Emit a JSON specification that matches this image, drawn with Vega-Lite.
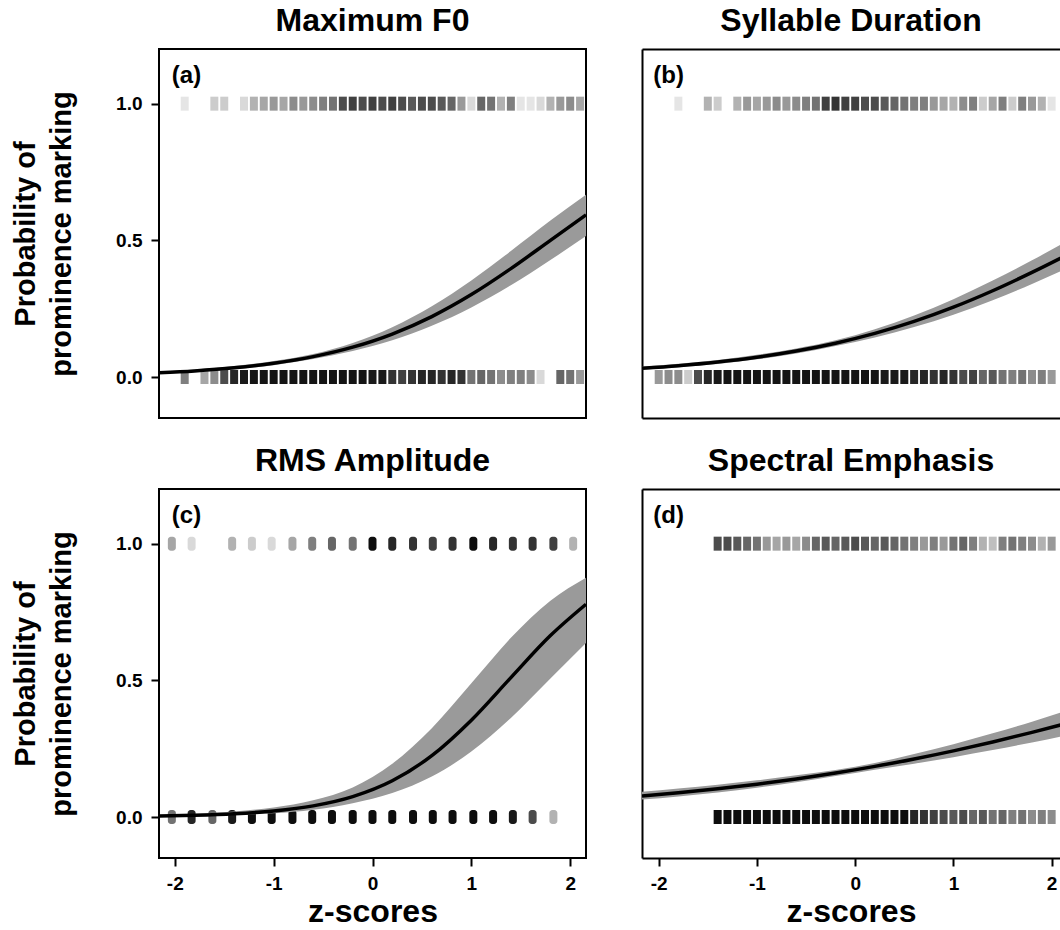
{
  "$schema": "https://vega.github.io/schema/vega-lite/v6.json",
  "background": "white",
  "padding": {"left": 10, "top": 4, "right": 0, "bottom": 0},
  "config": {
    "font": "Liberation Sans",
    "view": {"stroke": "black", "strokeWidth": 2},
    "title": {"fontSize": 32, "fontWeight": "bold", "font": "Liberation Sans", "offset": 11, "baseline": "alphabetic", "anchor": "middle", "frame": "group", "color": "black"},
    "axis": {"grid": false, "labelFont": "Liberation Sans", "labelFontWeight": "bold", "labelFontSize": 19, "labelColor": "black", "tickColor": "black", "tickWidth": 2, "tickSize": 8, "domainColor": "black", "domainWidth": 2, "titleFont": "Liberation Sans", "titleFontWeight": "bold", "titleColor": "black"}
  },
  "datasets": {
    "lab": [
      {"p":"a","x":-2.03,"y":1.1,"t":"(a)"},
      {"p":"b","x":-2.055,"y":1.1,"t":"(b)"},
      {"p":"c","x":-2.03,"y":1.1,"t":"(c)"},
      {"p":"d","x":-2.055,"y":1.1,"t":"(d)"}
    ],
    "pts": [
      {"p":"a","x":-1.9,"y":1,"d":0.1},{"p":"a","x":-1.6,"y":1,"d":0.2},{"p":"a","x":-1.5,"y":1,"d":0.2},{"p":"a","x":-1.3,"y":1,"d":0.15},{"p":"a","x":-1.2,"y":1,"d":0.3},{"p":"a","x":-1.1,"y":1,"d":0.35},{"p":"a","x":-1.0,"y":1,"d":0.4},{"p":"a","x":-0.9,"y":1,"d":0.35},{"p":"a","x":-0.8,"y":1,"d":0.45},{"p":"a","x":-0.7,"y":1,"d":0.4},{"p":"a","x":-0.6,"y":1,"d":0.45},{"p":"a","x":-0.5,"y":1,"d":0.5},{"p":"a","x":-0.4,"y":1,"d":0.55},{"p":"a","x":-0.3,"y":1,"d":0.7},{"p":"a","x":-0.2,"y":1,"d":0.75},{"p":"a","x":-0.1,"y":1,"d":0.7},{"p":"a","x":0.0,"y":1,"d":0.75},{"p":"a","x":0.1,"y":1,"d":0.7},{"p":"a","x":0.2,"y":1,"d":0.75},{"p":"a","x":0.3,"y":1,"d":0.7},{"p":"a","x":0.4,"y":1,"d":0.65},{"p":"a","x":0.5,"y":1,"d":0.7},{"p":"a","x":0.6,"y":1,"d":0.7},{"p":"a","x":0.7,"y":1,"d":0.65},{"p":"a","x":0.8,"y":1,"d":0.6},{"p":"a","x":0.9,"y":1,"d":0.4},{"p":"a","x":1.0,"y":1,"d":0.15},{"p":"a","x":1.1,"y":1,"d":0.6},{"p":"a","x":1.2,"y":1,"d":0.55},{"p":"a","x":1.3,"y":1,"d":0.3},{"p":"a","x":1.4,"y":1,"d":0.5},{"p":"a","x":1.5,"y":1,"d":0.1},{"p":"a","x":1.6,"y":1,"d":0.1},{"p":"a","x":1.7,"y":1,"d":0.15},{"p":"a","x":1.8,"y":1,"d":0.3},{"p":"a","x":1.9,"y":1,"d":0.4},{"p":"a","x":2.0,"y":1,"d":0.45},{"p":"a","x":2.1,"y":1,"d":0.35},
      {"p":"a","x":-1.9,"y":0,"d":0.5},{"p":"a","x":-1.7,"y":0,"d":0.35},{"p":"a","x":-1.6,"y":0,"d":0.45},{"p":"a","x":-1.5,"y":0,"d":0.7},{"p":"a","x":-1.4,"y":0,"d":0.85},{"p":"a","x":-1.3,"y":0,"d":0.9},{"p":"a","x":-1.2,"y":0,"d":0.92},{"p":"a","x":-1.1,"y":0,"d":0.92},{"p":"a","x":-1.0,"y":0,"d":0.92},{"p":"a","x":-0.9,"y":0,"d":0.92},{"p":"a","x":-0.8,"y":0,"d":0.92},{"p":"a","x":-0.7,"y":0,"d":0.92},{"p":"a","x":-0.6,"y":0,"d":0.92},{"p":"a","x":-0.5,"y":0,"d":0.92},{"p":"a","x":-0.4,"y":0,"d":0.92},{"p":"a","x":-0.3,"y":0,"d":0.92},{"p":"a","x":-0.2,"y":0,"d":0.92},{"p":"a","x":-0.1,"y":0,"d":0.92},{"p":"a","x":0.0,"y":0,"d":0.9},{"p":"a","x":0.1,"y":0,"d":0.9},{"p":"a","x":0.2,"y":0,"d":0.8},{"p":"a","x":0.3,"y":0,"d":0.75},{"p":"a","x":0.4,"y":0,"d":0.8},{"p":"a","x":0.5,"y":0,"d":0.85},{"p":"a","x":0.6,"y":0,"d":0.85},{"p":"a","x":0.7,"y":0,"d":0.8},{"p":"a","x":0.8,"y":0,"d":0.85},{"p":"a","x":0.9,"y":0,"d":0.8},{"p":"a","x":1.0,"y":0,"d":0.55},{"p":"a","x":1.1,"y":0,"d":0.6},{"p":"a","x":1.2,"y":0,"d":0.55},{"p":"a","x":1.3,"y":0,"d":0.45},{"p":"a","x":1.4,"y":0,"d":0.5},{"p":"a","x":1.5,"y":0,"d":0.5},{"p":"a","x":1.6,"y":0,"d":0.45},{"p":"a","x":1.7,"y":0,"d":0.15},{"p":"a","x":1.9,"y":0,"d":0.6},{"p":"a","x":2.0,"y":0,"d":0.55},{"p":"a","x":2.1,"y":0,"d":0.4},
      {"p":"b","x":-1.8,"y":1,"d":0.1},{"p":"b","x":-1.5,"y":1,"d":0.3},{"p":"b","x":-1.4,"y":1,"d":0.2},{"p":"b","x":-1.2,"y":1,"d":0.3},{"p":"b","x":-1.1,"y":1,"d":0.4},{"p":"b","x":-1.0,"y":1,"d":0.35},{"p":"b","x":-0.9,"y":1,"d":0.4},{"p":"b","x":-0.8,"y":1,"d":0.45},{"p":"b","x":-0.7,"y":1,"d":0.4},{"p":"b","x":-0.6,"y":1,"d":0.45},{"p":"b","x":-0.5,"y":1,"d":0.5},{"p":"b","x":-0.4,"y":1,"d":0.55},{"p":"b","x":-0.3,"y":1,"d":0.75},{"p":"b","x":-0.2,"y":1,"d":0.8},{"p":"b","x":-0.1,"y":1,"d":0.75},{"p":"b","x":0.0,"y":1,"d":0.75},{"p":"b","x":0.1,"y":1,"d":0.7},{"p":"b","x":0.2,"y":1,"d":0.7},{"p":"b","x":0.3,"y":1,"d":0.65},{"p":"b","x":0.4,"y":1,"d":0.6},{"p":"b","x":0.5,"y":1,"d":0.55},{"p":"b","x":0.6,"y":1,"d":0.5},{"p":"b","x":0.7,"y":1,"d":0.5},{"p":"b","x":0.8,"y":1,"d":0.4},{"p":"b","x":0.9,"y":1,"d":0.35},{"p":"b","x":1.0,"y":1,"d":0.3},{"p":"b","x":1.1,"y":1,"d":0.45},{"p":"b","x":1.2,"y":1,"d":0.5},{"p":"b","x":1.3,"y":1,"d":0.2},{"p":"b","x":1.4,"y":1,"d":0.35},{"p":"b","x":1.5,"y":1,"d":0.5},{"p":"b","x":1.6,"y":1,"d":0.2},{"p":"b","x":1.7,"y":1,"d":0.5},{"p":"b","x":1.8,"y":1,"d":0.4},{"p":"b","x":1.9,"y":1,"d":0.3},{"p":"b","x":2.0,"y":1,"d":0.1},
      {"p":"b","x":-2.0,"y":0,"d":0.4},{"p":"b","x":-1.9,"y":0,"d":0.45},{"p":"b","x":-1.8,"y":0,"d":0.45},{"p":"b","x":-1.7,"y":0,"d":0.2},{"p":"b","x":-1.6,"y":0,"d":0.7},{"p":"b","x":-1.5,"y":0,"d":0.85},{"p":"b","x":-1.4,"y":0,"d":0.9},{"p":"b","x":-1.3,"y":0,"d":0.92},{"p":"b","x":-1.2,"y":0,"d":0.92},{"p":"b","x":-1.1,"y":0,"d":0.92},{"p":"b","x":-1.0,"y":0,"d":0.92},{"p":"b","x":-0.9,"y":0,"d":0.92},{"p":"b","x":-0.8,"y":0,"d":0.92},{"p":"b","x":-0.7,"y":0,"d":0.92},{"p":"b","x":-0.6,"y":0,"d":0.92},{"p":"b","x":-0.5,"y":0,"d":0.92},{"p":"b","x":-0.4,"y":0,"d":0.92},{"p":"b","x":-0.3,"y":0,"d":0.92},{"p":"b","x":-0.2,"y":0,"d":0.92},{"p":"b","x":-0.1,"y":0,"d":0.92},{"p":"b","x":0.0,"y":0,"d":0.92},{"p":"b","x":0.1,"y":0,"d":0.92},{"p":"b","x":0.2,"y":0,"d":0.92},{"p":"b","x":0.3,"y":0,"d":0.9},{"p":"b","x":0.4,"y":0,"d":0.9},{"p":"b","x":0.5,"y":0,"d":0.9},{"p":"b","x":0.6,"y":0,"d":0.85},{"p":"b","x":0.7,"y":0,"d":0.85},{"p":"b","x":0.8,"y":0,"d":0.8},{"p":"b","x":0.9,"y":0,"d":0.85},{"p":"b","x":1.0,"y":0,"d":0.8},{"p":"b","x":1.1,"y":0,"d":0.7},{"p":"b","x":1.2,"y":0,"d":0.75},{"p":"b","x":1.3,"y":0,"d":0.6},{"p":"b","x":1.4,"y":0,"d":0.65},{"p":"b","x":1.5,"y":0,"d":0.55},{"p":"b","x":1.6,"y":0,"d":0.5},{"p":"b","x":1.7,"y":0,"d":0.55},{"p":"b","x":1.8,"y":0,"d":0.45},{"p":"b","x":1.9,"y":0,"d":0.5},{"p":"b","x":2.0,"y":0,"d":0.4},
      {"p":"c","x":-2.03,"y":1,"d":0.35},{"p":"c","x":-1.83,"y":1,"d":0.15},{"p":"c","x":-1.42,"y":1,"d":0.3},{"p":"c","x":-1.22,"y":1,"d":0.2},{"p":"c","x":-1.02,"y":1,"d":0.15},{"p":"c","x":-0.81,"y":1,"d":0.35},{"p":"c","x":-0.61,"y":1,"d":0.5},{"p":"c","x":-0.41,"y":1,"d":0.6},{"p":"c","x":-0.2,"y":1,"d":0.55},{"p":"c","x":0.0,"y":1,"d":0.95},{"p":"c","x":0.2,"y":1,"d":0.85},{"p":"c","x":0.41,"y":1,"d":0.8},{"p":"c","x":0.61,"y":1,"d":0.75},{"p":"c","x":0.81,"y":1,"d":0.8},{"p":"c","x":1.02,"y":1,"d":0.95},{"p":"c","x":1.22,"y":1,"d":0.85},{"p":"c","x":1.42,"y":1,"d":0.8},{"p":"c","x":1.62,"y":1,"d":0.8},{"p":"c","x":1.83,"y":1,"d":0.75},{"p":"c","x":2.03,"y":1,"d":0.3},
      {"p":"c","x":-2.03,"y":0,"d":0.55},{"p":"c","x":-1.83,"y":0,"d":0.85},{"p":"c","x":-1.62,"y":0,"d":0.6},{"p":"c","x":-1.42,"y":0,"d":0.9},{"p":"c","x":-1.22,"y":0,"d":0.95},{"p":"c","x":-1.02,"y":0,"d":0.95},{"p":"c","x":-0.81,"y":0,"d":0.95},{"p":"c","x":-0.61,"y":0,"d":0.95},{"p":"c","x":-0.41,"y":0,"d":0.95},{"p":"c","x":-0.2,"y":0,"d":0.95},{"p":"c","x":0.0,"y":0,"d":0.95},{"p":"c","x":0.2,"y":0,"d":0.95},{"p":"c","x":0.41,"y":0,"d":0.95},{"p":"c","x":0.61,"y":0,"d":0.95},{"p":"c","x":0.81,"y":0,"d":0.95},{"p":"c","x":1.02,"y":0,"d":0.95},{"p":"c","x":1.22,"y":0,"d":0.95},{"p":"c","x":1.42,"y":0,"d":0.9},{"p":"c","x":1.62,"y":0,"d":0.7},{"p":"c","x":1.83,"y":0,"d":0.3},
      {"p":"d","x":-1.4,"y":1,"d":0.7},{"p":"d","x":-1.3,"y":1,"d":0.7},{"p":"d","x":-1.2,"y":1,"d":0.65},{"p":"d","x":-1.1,"y":1,"d":0.6},{"p":"d","x":-1.0,"y":1,"d":0.55},{"p":"d","x":-0.9,"y":1,"d":0.4},{"p":"d","x":-0.8,"y":1,"d":0.35},{"p":"d","x":-0.7,"y":1,"d":0.4},{"p":"d","x":-0.6,"y":1,"d":0.35},{"p":"d","x":-0.5,"y":1,"d":0.45},{"p":"d","x":-0.4,"y":1,"d":0.6},{"p":"d","x":-0.3,"y":1,"d":0.65},{"p":"d","x":-0.2,"y":1,"d":0.6},{"p":"d","x":-0.1,"y":1,"d":0.65},{"p":"d","x":0.0,"y":1,"d":0.7},{"p":"d","x":0.1,"y":1,"d":0.65},{"p":"d","x":0.2,"y":1,"d":0.6},{"p":"d","x":0.3,"y":1,"d":0.65},{"p":"d","x":0.4,"y":1,"d":0.6},{"p":"d","x":0.5,"y":1,"d":0.55},{"p":"d","x":0.6,"y":1,"d":0.5},{"p":"d","x":0.7,"y":1,"d":0.4},{"p":"d","x":0.8,"y":1,"d":0.5},{"p":"d","x":0.9,"y":1,"d":0.4},{"p":"d","x":1.0,"y":1,"d":0.55},{"p":"d","x":1.1,"y":1,"d":0.6},{"p":"d","x":1.2,"y":1,"d":0.5},{"p":"d","x":1.3,"y":1,"d":0.3},{"p":"d","x":1.4,"y":1,"d":0.25},{"p":"d","x":1.5,"y":1,"d":0.5},{"p":"d","x":1.6,"y":1,"d":0.55},{"p":"d","x":1.7,"y":1,"d":0.5},{"p":"d","x":1.8,"y":1,"d":0.45},{"p":"d","x":1.9,"y":1,"d":0.3},{"p":"d","x":2.0,"y":1,"d":0.4},
      {"p":"d","x":-1.4,"y":0,"d":0.95},{"p":"d","x":-1.3,"y":0,"d":0.95},{"p":"d","x":-1.2,"y":0,"d":0.95},{"p":"d","x":-1.1,"y":0,"d":0.95},{"p":"d","x":-1.0,"y":0,"d":0.95},{"p":"d","x":-0.9,"y":0,"d":0.95},{"p":"d","x":-0.8,"y":0,"d":0.95},{"p":"d","x":-0.7,"y":0,"d":0.95},{"p":"d","x":-0.6,"y":0,"d":0.95},{"p":"d","x":-0.5,"y":0,"d":0.95},{"p":"d","x":-0.4,"y":0,"d":0.95},{"p":"d","x":-0.3,"y":0,"d":0.95},{"p":"d","x":-0.2,"y":0,"d":0.95},{"p":"d","x":-0.1,"y":0,"d":0.95},{"p":"d","x":0.0,"y":0,"d":0.95},{"p":"d","x":0.1,"y":0,"d":0.95},{"p":"d","x":0.2,"y":0,"d":0.95},{"p":"d","x":0.3,"y":0,"d":0.95},{"p":"d","x":0.4,"y":0,"d":0.95},{"p":"d","x":0.5,"y":0,"d":0.95},{"p":"d","x":0.6,"y":0,"d":0.85},{"p":"d","x":0.7,"y":0,"d":0.8},{"p":"d","x":0.8,"y":0,"d":0.75},{"p":"d","x":0.9,"y":0,"d":0.7},{"p":"d","x":1.0,"y":0,"d":0.65},{"p":"d","x":1.1,"y":0,"d":0.7},{"p":"d","x":1.2,"y":0,"d":0.6},{"p":"d","x":1.3,"y":0,"d":0.65},{"p":"d","x":1.4,"y":0,"d":0.55},{"p":"d","x":1.5,"y":0,"d":0.6},{"p":"d","x":1.6,"y":0,"d":0.5},{"p":"d","x":1.7,"y":0,"d":0.55},{"p":"d","x":1.8,"y":0,"d":0.45},{"p":"d","x":1.9,"y":0,"d":0.5},{"p":"d","x":2.0,"y":0,"d":0.45}
    ],
    "fit": [
      {"p":"a","x":-2.16,"f":0.0154,"lo":0.0121,"hi":0.0196},{"p":"a","x":-1.8,"f":0.0223,"lo":0.018,"hi":0.0277},{"p":"a","x":-1.4,"f":0.0335,"lo":0.0278,"hi":0.0404},{"p":"a","x":-1.0,"f":0.0502,"lo":0.0429,"hi":0.0587},{"p":"a","x":-0.6,"f":0.0745,"lo":0.0656,"hi":0.0845},{"p":"a","x":-0.2,"f":0.1091,"lo":0.0953,"hi":0.1247},{"p":"a","x":0.2,"f":0.1571,"lo":0.1348,"hi":0.1823},{"p":"a","x":0.6,"f":0.221,"lo":0.1874,"hi":0.2587},{"p":"a","x":1.0,"f":0.3015,"lo":0.2545,"hi":0.3532},{"p":"a","x":1.4,"f":0.3965,"lo":0.3356,"hi":0.4608},{"p":"a","x":1.8,"f":0.5,"lo":0.4278,"hi":0.5722},{"p":"a","x":2.16,"f":0.5934,"lo":0.5155,"hi":0.6669},
      {"p":"b","x":-2.17,"f":0.0318,"lo":0.0269,"hi":0.0376},{"p":"b","x":-1.8,"f":0.0414,"lo":0.0356,"hi":0.0481},{"p":"b","x":-1.4,"f":0.0549,"lo":0.048,"hi":0.0625},{"p":"b","x":-1.0,"f":0.0724,"lo":0.0646,"hi":0.081},{"p":"b","x":-0.6,"f":0.095,"lo":0.0864,"hi":0.1043},{"p":"b","x":-0.2,"f":0.1237,"lo":0.1137,"hi":0.1342},{"p":"b","x":0.2,"f":0.1595,"lo":0.1449,"hi":0.175},{"p":"b","x":0.6,"f":0.2032,"lo":0.1829,"hi":0.2251},{"p":"b","x":1.0,"f":0.2554,"lo":0.2281,"hi":0.2845},{"p":"b","x":1.4,"f":0.3156,"lo":0.2807,"hi":0.3526},{"p":"b","x":1.8,"f":0.3827,"lo":0.3401,"hi":0.427},{"p":"b","x":2.16,"f":0.4472,"lo":0.3982,"hi":0.4973},
      {"p":"c","x":-2.16,"f":0.0035,"lo":0.0019,"hi":0.0065},{"p":"c","x":-1.8,"f":0.0062,"lo":0.0035,"hi":0.011},{"p":"c","x":-1.4,"f":0.0117,"lo":0.0069,"hi":0.0197},{"p":"c","x":-1.0,"f":0.0219,"lo":0.0136,"hi":0.035},{"p":"c","x":-0.6,"f":0.0407,"lo":0.0267,"hi":0.0616},{"p":"c","x":-0.2,"f":0.0745,"lo":0.0506,"hi":0.1083},{"p":"c","x":0.2,"f":0.1324,"lo":0.0878,"hi":0.1947},{"p":"c","x":0.6,"f":0.2244,"lo":0.1483,"hi":0.3248},{"p":"c","x":1.0,"f":0.3543,"lo":0.2394,"hi":0.489},{"p":"c","x":1.4,"f":0.51,"lo":0.3626,"hi":0.6557},{"p":"c","x":1.8,"f":0.6637,"lo":0.507,"hi":0.7912},{"p":"c","x":2.16,"f":0.7783,"lo":0.6367,"hi":0.8756},
      {"p":"d","x":-2.17,"f":0.0766,"lo":0.0636,"hi":0.092},{"p":"d","x":-1.8,"f":0.0885,"lo":0.0752,"hi":0.104},{"p":"d","x":-1.4,"f":0.1032,"lo":0.0898,"hi":0.1184},{"p":"d","x":-1.0,"f":0.12,"lo":0.107,"hi":0.1345},{"p":"d","x":-0.6,"f":0.1392,"lo":0.1269,"hi":0.1524},{"p":"d","x":-0.2,"f":0.1608,"lo":0.15,"hi":0.1722},{"p":"d","x":0.2,"f":0.1852,"lo":0.1731,"hi":0.1978},{"p":"d","x":0.6,"f":0.2122,"lo":0.195,"hi":0.2304},{"p":"d","x":1.0,"f":0.242,"lo":0.2189,"hi":0.2666},{"p":"d","x":1.4,"f":0.2745,"lo":0.2449,"hi":0.3062},{"p":"d","x":1.8,"f":0.3096,"lo":0.2729,"hi":0.3489},{"p":"d","x":2.16,"f":0.3432,"lo":0.2996,"hi":0.3896}
    ]
  },
  "vconcat": [
    {
      "hconcat": [
        {
          "width": 427, "height": 369,
          "title": "Maximum F0",
          "layer": [
            {"data": {"name": "pts"}, "transform": [{"filter": {"field": "p", "equal": "a"}}],
             "mark": {"type": "tick", "orient": "vertical", "thickness": 8, "size": 14, "color": "black"},
             "encoding": {
               "x": {"field": "x", "type": "quantitative", "scale": {"domain": [-2.16, 2.16], "nice": false, "zero": false}, "axis": null},
               "y": {"field": "y", "type": "quantitative", "scale": {"domain": [-0.15, 1.2], "nice": false, "zero": false},
                     "axis": {"values": [0, 0.5, 1], "format": ".1f", "ticks": true, "tickSize": 8, "tickWidth": 2, "tickColor": "black", "labelPadding": 9, "domain": false, "title": ["Probability of", "prominence marking"], "titleFontSize": 29, "titleLineHeight": 36, "titlePadding": 39}},
               "opacity": {"field": "d", "type": "quantitative", "scale": null}}},
            {"data": {"name": "fit"}, "transform": [{"filter": {"field": "p", "equal": "a"}}],
             "mark": {"type": "area", "color": "#9a9a9a", "interpolate": "monotone", "opacity": 1},
             "encoding": {"x": {"field": "x", "type": "quantitative", "axis": null}, "y": {"field": "lo", "type": "quantitative"}, "y2": {"field": "hi"}}},
            {"data": {"name": "fit"}, "transform": [{"filter": {"field": "p", "equal": "a"}}],
             "mark": {"type": "line", "color": "black", "strokeWidth": 3.5, "interpolate": "monotone"},
             "encoding": {"x": {"field": "x", "type": "quantitative", "axis": null}, "y": {"field": "f", "type": "quantitative"}}},
            {"data": {"name": "lab"}, "transform": [{"filter": {"field": "p", "equal": "a"}}],
             "mark": {"type": "text", "fontSize": 24, "fontWeight": "bold", "align": "left", "baseline": "middle", "color": "black"},
             "encoding": {"x": {"field": "x", "type": "quantitative", "axis": null}, "y": {"field": "y", "type": "quantitative"}, "text": {"field": "t"}}}
          ]
        },
        {
          "width": 418, "height": 369,
          "title": "Syllable Duration",
          "view": {"stroke": null},
          "resolve": {"axis": {"x": "independent"}},
          "layer": [
            {"data": {"name": "pts"}, "transform": [{"filter": {"field": "p", "equal": "b"}}],
             "mark": {"type": "tick", "orient": "vertical", "thickness": 8, "size": 14, "color": "black", "clip": true},
             "encoding": {
               "x": {"field": "x", "type": "quantitative", "scale": {"domain": [-2.17, 2.085], "nice": false, "zero": false}, "axis": {"orient": "top", "ticks": false, "labels": false, "title": null}},
               "y": {"field": "y", "type": "quantitative", "scale": {"domain": [-0.15, 1.2], "nice": false, "zero": false}, "axis": {"ticks": false, "labels": false, "title": null}},
               "opacity": {"field": "d", "type": "quantitative", "scale": null}}},
            {"data": {"name": "fit"}, "transform": [{"filter": {"field": "p", "equal": "b"}}],
             "mark": {"type": "area", "color": "#9a9a9a", "interpolate": "monotone", "opacity": 1, "clip": true},
             "encoding": {"x": {"field": "x", "type": "quantitative", "axis": {"orient": "bottom", "ticks": false, "labels": false, "title": null}}, "y": {"field": "lo", "type": "quantitative"}, "y2": {"field": "hi"}}},
            {"data": {"name": "fit"}, "transform": [{"filter": {"field": "p", "equal": "b"}}],
             "mark": {"type": "line", "color": "black", "strokeWidth": 3.5, "interpolate": "monotone", "clip": true},
             "encoding": {"x": {"field": "x", "type": "quantitative", "axis": null}, "y": {"field": "f", "type": "quantitative"}}},
            {"data": {"name": "lab"}, "transform": [{"filter": {"field": "p", "equal": "b"}}],
             "mark": {"type": "text", "fontSize": 24, "fontWeight": "bold", "align": "left", "baseline": "middle", "color": "black"},
             "encoding": {"x": {"field": "x", "type": "quantitative", "axis": null}, "y": {"field": "y", "type": "quantitative"}, "text": {"field": "t"}}}
          ]
        }
      ],
      "spacing": 48
    },
    {
      "hconcat": [
        {
          "width": 427, "height": 369,
          "title": "RMS Amplitude",
          "layer": [
            {"data": {"name": "pts"}, "transform": [{"filter": {"field": "p", "equal": "c"}}],
             "mark": {"type": "tick", "orient": "vertical", "thickness": 8, "size": 14, "cornerRadius": 3, "color": "black"},
             "encoding": {
               "x": {"field": "x", "type": "quantitative", "scale": {"domain": [-2.16, 2.16], "nice": false, "zero": false},
                     "axis": {"values": [-2, -1, 0, 1, 2], "labelExpr": "'' + datum.value", "ticks": true, "tickSize": 8, "tickWidth": 2, "tickColor": "black", "labelPadding": 8, "domain": false, "title": "z-scores", "titleFontSize": 32, "titlePadding": 3}},
               "y": {"field": "y", "type": "quantitative", "scale": {"domain": [-0.15, 1.2], "nice": false, "zero": false},
                     "axis": {"values": [0, 0.5, 1], "format": ".1f", "ticks": true, "tickSize": 8, "tickWidth": 2, "tickColor": "black", "labelPadding": 9, "domain": false, "title": ["Probability of", "prominence marking"], "titleFontSize": 29, "titleLineHeight": 36, "titlePadding": 39}},
               "opacity": {"field": "d", "type": "quantitative", "scale": null}}},
            {"data": {"name": "fit"}, "transform": [{"filter": {"field": "p", "equal": "c"}}],
             "mark": {"type": "area", "color": "#9a9a9a", "interpolate": "monotone", "opacity": 1},
             "encoding": {"x": {"field": "x", "type": "quantitative"}, "y": {"field": "lo", "type": "quantitative"}, "y2": {"field": "hi"}}},
            {"data": {"name": "fit"}, "transform": [{"filter": {"field": "p", "equal": "c"}}],
             "mark": {"type": "line", "color": "black", "strokeWidth": 3.5, "interpolate": "monotone"},
             "encoding": {"x": {"field": "x", "type": "quantitative"}, "y": {"field": "f", "type": "quantitative"}}},
            {"data": {"name": "lab"}, "transform": [{"filter": {"field": "p", "equal": "c"}}],
             "mark": {"type": "text", "fontSize": 24, "fontWeight": "bold", "align": "left", "baseline": "middle", "color": "black"},
             "encoding": {"x": {"field": "x", "type": "quantitative"}, "y": {"field": "y", "type": "quantitative"}, "text": {"field": "t"}}}
          ]
        },
        {
          "width": 418, "height": 369,
          "title": "Spectral Emphasis",
          "view": {"stroke": null},
          "resolve": {"axis": {"x": "independent"}},
          "layer": [
            {"data": {"name": "pts"}, "transform": [{"filter": {"field": "p", "equal": "d"}}],
             "mark": {"type": "tick", "orient": "vertical", "thickness": 8, "size": 14, "color": "black", "clip": true},
             "encoding": {
               "x": {"field": "x", "type": "quantitative", "scale": {"domain": [-2.17, 2.085], "nice": false, "zero": false}, "axis": {"orient": "top", "ticks": false, "labels": false, "title": null}},
               "y": {"field": "y", "type": "quantitative", "scale": {"domain": [-0.15, 1.2], "nice": false, "zero": false}, "axis": {"ticks": false, "labels": false, "title": null}},
               "opacity": {"field": "d", "type": "quantitative", "scale": null}}},
            {"data": {"name": "fit"}, "transform": [{"filter": {"field": "p", "equal": "d"}}],
             "mark": {"type": "area", "color": "#9a9a9a", "interpolate": "monotone", "opacity": 1, "clip": true},
             "encoding": {"x": {"field": "x", "type": "quantitative", "axis": {"orient": "bottom", "values": [-2, -1, 0, 1, 2], "labelExpr": "'' + datum.value", "ticks": true, "tickSize": 8, "tickWidth": 2, "tickColor": "black", "labelPadding": 8, "title": "z-scores", "titleFontSize": 32, "titlePadding": 3}}, "y": {"field": "lo", "type": "quantitative"}, "y2": {"field": "hi"}}},
            {"data": {"name": "fit"}, "transform": [{"filter": {"field": "p", "equal": "d"}}],
             "mark": {"type": "line", "color": "black", "strokeWidth": 3.5, "interpolate": "monotone", "clip": true},
             "encoding": {"x": {"field": "x", "type": "quantitative", "axis": null}, "y": {"field": "f", "type": "quantitative"}}},
            {"data": {"name": "lab"}, "transform": [{"filter": {"field": "p", "equal": "d"}}],
             "mark": {"type": "text", "fontSize": 24, "fontWeight": "bold", "align": "left", "baseline": "middle", "color": "black"},
             "encoding": {"x": {"field": "x", "type": "quantitative", "axis": null}, "y": {"field": "y", "type": "quantitative"}, "text": {"field": "t"}}}
          ]
        }
      ],
      "spacing": 48
    }
  ],
  "spacing": 25
}
